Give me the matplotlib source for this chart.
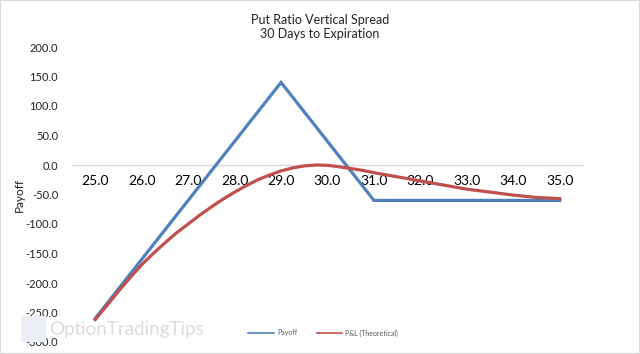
import numpy as np
import matplotlib
matplotlib.use('Agg')
import matplotlib.pyplot as plt
from matplotlib.patches import Rectangle

# -----------------------------
# DATA
# -----------------------------
payoff_x = [25.0, 26.0, 27.0, 28.0, 29.0, 30.0, 31.0, 32.0, 33.0, 34.0, 35.0]
payoff = [-260, -160, -60, 40, 140, 40, -60, -60, -60, -60, -60]

pnl_x = [25.0, 25.25, 25.5, 25.75, 26.0, 26.25, 26.5, 26.75, 27.0, 27.25, 27.5,
         27.75, 28.0, 28.25, 28.5, 28.75, 29.0, 29.25, 29.5, 29.75, 30.0,
         30.25, 30.5, 30.75, 31.0, 31.25, 31.5, 31.75, 32.0, 32.25, 32.5,
         32.75, 33.0, 33.25, 33.5, 33.75, 34.0, 34.25, 34.5, 34.75, 35.0]
pnl_theoretical = [-262, -238, -214, -191, -169, -150, -132, -115, -100, -85, -71,
                   -58, -46, -35, -25, -17, -10, -5, -1.5, 0, -0.5,
                   -3, -6, -9, -13, -16.5, -20, -23.5, -27, -30.5, -34,
                   -37.5, -41, -43.5, -46, -48.5, -51, -53, -55, -56, -57]

x_ticks = [25.0, 26.0, 27.0, 28.0, 29.0, 30.0, 31.0, 32.0, 33.0, 34.0, 35.0]
y_ticks = [200, 150, 100, 50, 0, -50, -100, -150, -200, -250, -300]

title = "Put Ratio Vertical Spread\n30 Days to Expiration"
blue = '#4F81BD'
red = '#C0504D'
txt = '#222222'

plt.rcParams['font.family'] = ['Lato', 'DejaVu Sans']

fig = plt.figure(figsize=(6.4, 3.54), dpi=100)
ax = fig.add_axes([72 / 640, 1 - 342 / 354, 511 / 640, 295 / 354])

ax.plot(payoff_x, payoff, color=blue, lw=2.3, solid_joinstyle='miter', zorder=3)
ax.plot(pnl_x, pnl_theoretical, color=red, lw=2.3, zorder=4)

ax.set_xlim(24.5, 35.5)
ax.set_ylim(-300, 200)
ax.set_yticks(y_ticks)
ax.set_yticklabels([f"{v:.1f}" for v in y_ticks], fontsize=8, color=txt)
ax.set_xticks(x_ticks)
ax.set_xticklabels([f"{v:.1f}" for v in x_ticks], fontsize=8, color=txt)

for s in ['top', 'right', 'left']:
    ax.spines[s].set_visible(False)
ax.spines['bottom'].set_position(('data', 0))
ax.spines['bottom'].set_color('#d9d9d9')
ax.spines['bottom'].set_linewidth(1.0)
ax.tick_params(axis='both', length=0)
ax.tick_params(axis='x', pad=7)
ax.tick_params(axis='y', pad=10)

ax.set_ylabel("Payoff", fontsize=8.5, color=txt)
ax.yaxis.set_label_coords(-0.092, 0.5)
fig.text(0.5, 1 - 27 / 354, title, ha='center', va='center', fontsize=9, color=txt,
         linespacing=1.3)

# legend
leg_y = 1 - 333 / 354
fig.lines.append(plt.Line2D([248 / 640, 274 / 640], [leg_y, leg_y], color=blue, lw=1.2,
                            transform=fig.transFigure))
fig.text(277 / 640, leg_y, "Payoff", fontsize=5, color='#595959', va='center')
fig.lines.append(plt.Line2D([317 / 640, 342 / 640], [leg_y, leg_y], color=red, lw=1.2,
                            transform=fig.transFigure))
fig.text(345 / 640, leg_y, "P&L (Theoretical)", fontsize=5, color='#595959', va='center')

# watermark
fig.patches.append(Rectangle((21 / 640, 1 - 342 / 354), 25 / 640, 26 / 354,
                             transform=fig.transFigure, facecolor='#eceef5',
                             edgecolor='none', zorder=0))
fig.text(49 / 640, 1 - 329 / 354, "OptionTradingTips", fontsize=13.5, color='#dcdcdc',
         va='center', ha='left', zorder=0)

# outer frame
fig.patches.append(Rectangle((0, 0), 1, 1, transform=fig.transFigure, fill=False,
                             edgecolor='#d9d9d9', lw=1.5))

fig.savefig('out.png', dpi=100)
